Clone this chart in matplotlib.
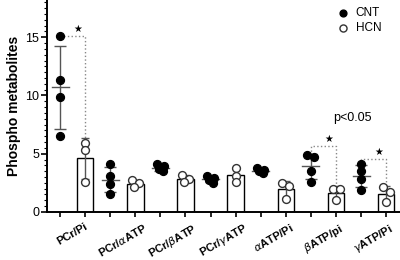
import numpy as np
import matplotlib
matplotlib.use("Agg")
import matplotlib.pyplot as plt
from matplotlib.ticker import MultipleLocator

plt.rcParams['font.family'] = ['Liberation Sans', 'DejaVu Sans']

groups = ['PCr/Pi', r'PCr/$\alpha$ATP', r'PCr/$\beta$ATP', r'PCr/$\gamma$ATP',
          r'$\alpha$ATP/Pi', r'$\beta$ATP/pi', r'$\gamma$ATP/Pi']

# individual values
cnt = [[15.1, 11.3, 9.9, 6.5],
       [4.1, 3.1, 2.4, 1.5],
       [4.1, 3.9, 3.7, 3.5],
       [3.1, 2.9, 2.7, 2.5],
       [3.8, 3.6, 3.5, 3.3],
       [4.9, 4.7, 3.5, 2.6],
       [4.1, 3.5, 2.8, 1.9]]
hcn = [[5.9, 5.3, 2.6],
       [2.7, 2.5, 2.1],
       [3.2, 2.8, 2.55],
       [3.8, 3.1, 2.55],
       [2.5, 2.2, 1.1],
       [1.95, 1.95, 1.0],
       [2.15, 1.7, 0.85]]

# groups with a significant CNT vs HCN difference
sig = [0, 5, 6]

fig = plt.figure(figsize=(4, 2.6), dpi=100)
ax = fig.add_axes([0.1175, 0.185, 0.8825, 0.815])

grey = '#555555'


def jitter(vals):
    # spread points that would overlap, like the prism scatter does
    vals = np.asarray(vals)
    off = np.zeros(len(vals))
    pat = [-0.14, 0.14, -0.06, 0.1]
    for i in range(1, len(vals)):
        if abs(vals[i] - vals[i - 1]) < 0.45:
            off[i] = pat[i % 4]
            if off[i - 1] == 0:
                off[i - 1] = -pat[i % 4]
    return off


for g in range(len(groups)):
    xc, xh = 2 * g, 2 * g + 1
    c = np.array(cnt[g])
    h = np.array(hcn[g])
    cm, cs = c.mean(), c.std(ddof=1)
    hm, hs = h.mean(), h.std(ddof=1)

    # HCN bar
    ax.bar(xh, hm, width=0.66, color='white', edgecolor='black', linewidth=1, zorder=1)
    ax.errorbar(xh, hm, yerr=hs, color=grey, capsize=3, lw=1, capthick=1, zorder=2)
    ax.scatter(xh + jitter(h), h, s=32, facecolor='white', edgecolor='#333333', linewidth=1, zorder=3)

    # CNT scatter with mean +- SD
    ax.errorbar(xc, cm, yerr=cs, color=grey, capsize=4, lw=1, capthick=1, zorder=2)
    ax.plot([xc - 0.34, xc + 0.34], [cm, cm], color=grey, lw=1, zorder=2)
    ax.scatter(xc + jitter(c), c, s=32, color='black', zorder=3)

# significance brackets
for g in sig:
    xc, xh = 2 * g, 2 * g + 1
    c = np.array(cnt[g])
    h = np.array(hcn[g])
    top_h = h.mean() + h.std(ddof=1)
    if g == 0:
        yb = c.max()
    elif g == 5:
        yb = c.max() + 0.8
    else:
        yb = c.max() + 0.45
    ax.plot([xc, xc, xh, xh], [c.max(), yb, yb, top_h], ls=':', color='#888888', lw=1, zorder=1)
    ax.text(xc + 0.72, yb + 0.15, '\u2605', fontsize=7, ha='center', va='bottom',
            family='DejaVu Sans', color='black')

ax.text(11.65, 8.05, 'p<0.05', fontsize=9, ha='center', va='center')

ax.set_xlim(-0.52, 13.55)
ax.set_ylim(0, 18.2)
ax.yaxis.set_major_locator(MultipleLocator(5))
ax.yaxis.set_minor_locator(MultipleLocator(0.5))
ax.set_xticks(np.arange(14))
ax.set_xticklabels([])
ax.set_xticks(np.arange(len(groups)) * 2 + 0.5, minor=True)
ax.set_xticklabels(groups, minor=True, rotation=30, ha='center', va='top',
                   fontsize=8, fontweight='bold')
ax.tick_params(axis='x', which='minor', length=0, pad=7)
ax.tick_params(axis='x', which='major', length=3.5, width=1.2)
ax.tick_params(axis='y', which='major', length=4, width=1.2, labelsize=9, pad=1.5)
ax.tick_params(axis='y', which='minor', length=2, width=0.8)

for s in ['top', 'right']:
    ax.spines[s].set_visible(False)
for s in ['left', 'bottom']:
    ax.spines[s].set_linewidth(1.4)

ax.set_ylabel('Phospho metabolites', fontsize=10, fontweight='bold', labelpad=3)

h1 = ax.scatter([], [], s=24, color='black')
h2 = ax.scatter([], [], s=26, facecolor='white', edgecolor='#333333', linewidth=1)
fig.legend([h1, h2], ['CNT', 'HCN'], loc='upper left', bbox_to_anchor=(0.83, 0.99),
           frameon=False, fontsize=8.5, handletextpad=0.6, labelspacing=0.2,
           borderaxespad=0, handlelength=1)

fig.savefig('out.png', dpi=100)
